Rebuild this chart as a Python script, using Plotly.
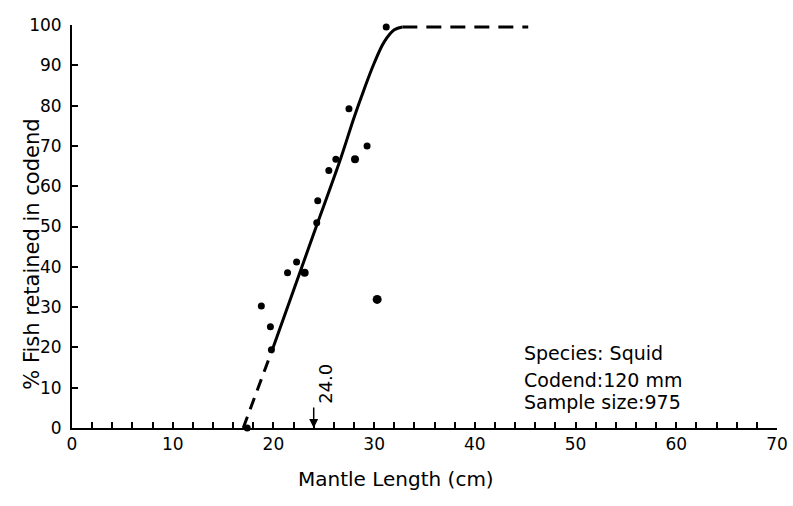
import plotly.graph_objects as go

# Observed retention by mantle length
length_cm = [17.4, 18.8, 19.7, 19.8, 21.4, 22.3, 23.1, 24.3, 24.4, 25.5, 26.2, 27.5, 28.1, 29.3, 30.3, 31.2]
retained_pct = [0, 30.3, 25.1, 19.4, 38.5, 41.2, 38.5, 50.9, 56.4, 63.9, 66.7, 79.2, 66.7, 70.0, 31.9, 99.5]
marker_px = [7, 7, 7, 7, 7, 7, 8, 7, 7, 7, 7, 7, 8, 7, 9, 7]

# Fitted selection curve (solid part) and its dashed extensions
curve_x = [19.9, 22.0, 24.3, 26.6, 28.0, 29.0, 30.0, 31.0, 32.0, 32.8]
curve_y = [19.5, 34.2, 50.3, 66.3, 77.0, 84.0, 90.5, 95.8, 98.8, 99.5]
lower_x = [17.0, 19.9]
lower_y = [0.0, 19.5]
upper_x = [32.8, 45.3]
upper_y = [99.5, 99.5]

l50 = 24.0
info_lines = ["Species: Squid", "Codend:120 mm", "Sample size:975"]
info_y = [18.6, 11.9, 6.4]

x_ticks = [0, 10, 20, 30, 40, 50, 60, 70]
y_ticks = [0, 10, 20, 30, 40, 50, 60, 70, 80, 90, 100]

FONT = "DejaVu Sans"

fig = go.Figure()

fig.add_trace(go.Scatter(x=lower_x, y=lower_y, mode="lines",
                         line=dict(color="black", width=3, dash="12px,8px"),
                         hoverinfo="skip", cliponaxis=False))
fig.add_trace(go.Scatter(x=curve_x, y=curve_y, mode="lines",
                         line=dict(color="black", width=3, shape="spline", smoothing=1.0),
                         hoverinfo="skip", cliponaxis=False))
fig.add_trace(go.Scatter(x=upper_x, y=upper_y, mode="lines",
                         line=dict(color="black", width=3, dash="15px,9px"),
                         hoverinfo="skip", cliponaxis=False))
fig.add_trace(go.Scatter(x=length_cm, y=retained_pct, mode="markers",
                         marker=dict(color="black", size=marker_px, opacity=1,
                                     line=dict(width=0)),
                         cliponaxis=False))

# 50% retention length marker
fig.add_annotation(x=l50, y=0, text="", showarrow=True, ax=0, ay=-22,
                   arrowhead=2, arrowsize=1.2, arrowwidth=1.5, arrowcolor="black")
fig.add_annotation(x=l50, y=10.9, text=f"{l50:.1f}", textangle=-90, showarrow=False,
                   xshift=11, font=dict(family=FONT, size=18, color="black"))

for line, yy in zip(info_lines, info_y):
    fig.add_annotation(x=44.7, y=yy, text=line, showarrow=False, xanchor="left",
                       yanchor="middle", font=dict(family=FONT, size=19, color="black"))

# Axis titles
fig.add_annotation(xref="paper", x=0, y=43.0, xshift=-54, text="% Fish retained in codend",
                   textangle=-90, showarrow=False,
                   font=dict(family=FONT, size=21, color="black"))
fig.add_annotation(x=32.2, yref="paper", y=0, yshift=-65, text="Mantle Length (cm)",
                   showarrow=False, font=dict(family=FONT, size=20, color="black"))

axis_common = dict(showgrid=False, zeroline=False, showline=True, linecolor="black",
                   linewidth=2, ticks="inside", tickcolor="black", ticklen=6, tickwidth=1.5,
                   tickfont=dict(family=FONT, size=17, color="black"))

fig.update_xaxes(range=[0, 70], tickvals=x_ticks, automargin=False,
                 minor=dict(dtick=2, ticks="inside", ticklen=6, tickwidth=1.5, tickcolor="black"),
                 **axis_common)
fig.update_yaxes(range=[0, 100], tickvals=y_ticks, automargin=False,
                 ticklabelstandoff=5, **axis_common)

fig.update_layout(width=793, height=506, showlegend=False,
                  margin=dict(l=72, r=16, t=25, b=78),
                  paper_bgcolor="white", plot_bgcolor="white",
                  font=dict(family=FONT, color="black"))

fig.write_html("out.html")
